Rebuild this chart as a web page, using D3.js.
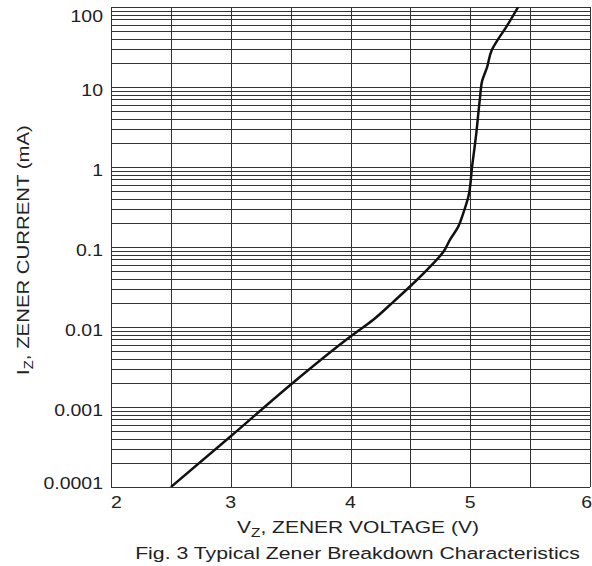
<!DOCTYPE html>
<html>
<head>
<meta charset="utf-8">
<script src="https://cdn.jsdelivr.net/npm/d3@7.9.0/dist/d3.min.js"></script>
<style>
  body { margin: 0; background: #fff; }
  svg { font-family: "Liberation Sans", Arial, sans-serif; }
</style>
</head>
<body>
<svg id="chart" width="592" height="566"></svg>
<script>
// Zener breakdown curve
const voltage = [2.5, 3.0, 3.5, 4.0, 4.19, 4.36, 4.51, 4.665, 4.776, 4.83, 4.90, 4.94, 4.985, 5.015, 5.05, 5.08, 5.10, 5.14, 5.18, 5.23, 5.30, 5.40];
const current = [0.0001, 0.00043, 0.0019, 0.0076, 0.0123, 0.0208, 0.0335, 0.057, 0.087, 0.123, 0.18, 0.26, 0.43, 1.0, 2.6, 7, 12, 17.6, 29, 39, 56, 100];

const xTicks = [2, 3, 4, 5, 6];
const yTicks = [0.0001, 0.001, 0.01, 0.1, 1, 10, 100];
const yTickLabels = ['0.0001', '0.001', '0.01', '0.1', '1', '10', '100'];

const svg = d3.select('#chart');
const plotLeft = 111, plotRight = 590, plotTop = 7, plotBottom = 487;
const fontSize = 16.5;
const stretch = 1.18;   // the original lettering is wider than Arial

const x = d3.scaleLinear().domain([2, 6]).range([plotLeft, plotRight]);
const y = d3.scaleLog().domain([0.0001, 100]).range([plotBottom, plotTop]);

// grid: vertical lines every 0.5 V
const vLines = d3.range(2, 6.01, 0.5);
svg.append('g')
  .selectAll('line')
  .data(vLines)
  .join('line')
  .attr('x1', d => Math.round(x(d)) + 0.5)
  .attr('x2', d => Math.round(x(d)) + 0.5)
  .attr('y1', plotTop)
  .attr('y2', plotBottom)
  .attr('stroke', '#333')
  .attr('stroke-width', 1);

// horizontal lines at every 1..9 x decade
const hLines = [];
yTicks.forEach((t, i) => {
  if (i === yTicks.length - 1) { hLines.push(t); return; }
  for (let k = 1; k <= 9; k++) hLines.push(t * k);
});
svg.append('g')
  .selectAll('line')
  .data(hLines)
  .join('line')
  .attr('x1', plotLeft)
  .attr('x2', plotRight)
  .attr('y1', d => Math.round(y(d)) + 0.5)
  .attr('y2', d => Math.round(y(d)) + 0.5)
  .attr('stroke', '#333')
  .attr('stroke-width', 1);

// the curve
svg.append('clipPath').attr('id', 'clip')
  .append('rect').attr('x', plotLeft).attr('y', plotTop)
  .attr('width', plotRight - plotLeft).attr('height', plotBottom - plotTop);

const pts = voltage.map((v, i) => [v, current[i]]);
svg.append('path')
  .datum(pts)
  .attr('clip-path', 'url(#clip)')
  .attr('fill', 'none')
  .attr('stroke', '#111')
  .attr('stroke-width', 2.5)
  .attr('d', d3.line().x(d => x(d[0])).y(d => y(d[1])).curve(d3.curveMonotoneY));

// y tick labels (anchored at right edge, stretched)
svg.append('g')
  .selectAll('text')
  .data(yTicks)
  .join('text')
  .attr('transform', (d, i) => {
    let yy = y(d) + 3;
    if (i === 0) yy = y(d) - 4;
    if (i === yTicks.length - 1) yy = y(d) + 9;
    return `translate(103,${yy}) scale(${stretch},1)`;
  })
  .attr('dy', '0.35em')
  .attr('text-anchor', 'end')
  .attr('font-size', fontSize)
  .attr('fill', '#222')
  .text((d, i) => yTickLabels[i]);

// x tick labels
svg.append('g')
  .selectAll('text')
  .data(xTicks)
  .join('text')
  .attr('transform', (d, i) => {
    const xx = i === xTicks.length - 1 ? 592 : x(d);
    return `translate(${xx},508) scale(${stretch},1)`;
  })
  .attr('text-anchor', (d, i) => i === 0 ? 'start' : (i === xTicks.length - 1 ? 'end' : 'middle'))
  .attr('font-size', fontSize)
  .attr('fill', '#222')
  .text(d => d);

// stretch a title to the width it has in the figure
function fitWidth(sel, tx, ty, rot, width) {
  const w = sel.node().getBBox().width;
  sel.attr('transform', `translate(${tx},${ty}) rotate(${rot}) scale(${width / w},1)`);
}

// x axis title
const xt = svg.append('text')
  .attr('text-anchor', 'middle')
  .attr('font-size', fontSize)
  .attr('fill', '#222');
xt.append('tspan').text('V');
xt.append('tspan').attr('font-size', 12).attr('dy', 4).text('Z');
xt.append('tspan').attr('dy', -4).text(', ZENER VOLTAGE (V)');
fitWidth(xt, 358, 533, 0, 242);

// caption
const cap = svg.append('text')
  .attr('text-anchor', 'middle')
  .attr('font-size', fontSize)
  .attr('fill', '#222')
  .text('Fig. 3 Typical Zener Breakdown Characteristics');
fitWidth(cap, 357.5, 559, 0, 445);

// y axis title
const yt = svg.append('text')
  .attr('text-anchor', 'middle')
  .attr('font-size', fontSize)
  .attr('fill', '#222');
yt.append('tspan').text('I');
yt.append('tspan').attr('font-size', 12).attr('dy', 4).text('Z');
yt.append('tspan').attr('dy', -4).text(', ZENER CURRENT (mA)');
fitWidth(yt, 29, 250, -90, 250);
</script>
</body>
</html>
